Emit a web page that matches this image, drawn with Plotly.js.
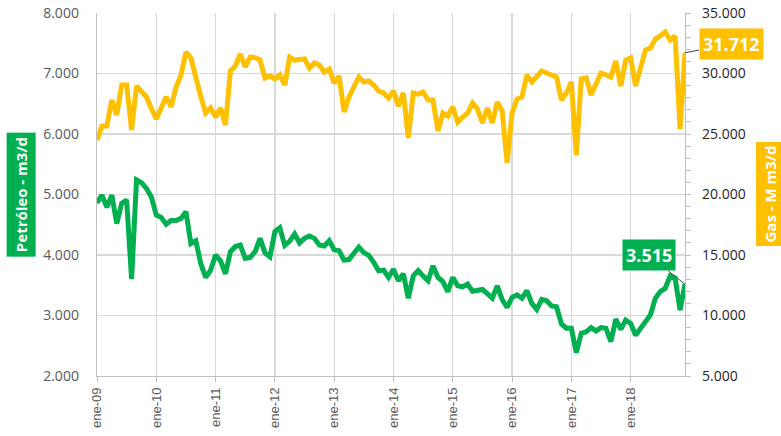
<!DOCTYPE html>
<html>
<head>
<meta charset="utf-8">
<script src="https://cdn.plot.ly/plotly-3.0.1.min.js"></script>
<style>html,body{margin:0;padding:0;background:#fff}#chart{width:781px;height:436px}</style>
</head>
<body>
<div id="chart"></div>
<script>
// Month labels (Spanish abbreviations) and years covered
const monthNames = ["ene","feb","mar","abr","may","jun","jul","ago","sep","oct","nov","dic"];
const years = ["09","10","11","12","13","14","15","16","17","18"];
const months = [];
years.forEach(y => monthNames.forEach(m => months.push(m + "-" + y)));
const tickLabels = years.map(y => "ene-" + y);

// Petróleo (m3/d), monthly ene-09 .. dic-18
const oil = [
  4860,4990,4790,4990,4520,4855,4910,3600,5240,5195,5100,4960,
  4660,4620,4510,4570,4570,4605,4715,4190,4235,3860,3630,3750,
  4000,3905,3690,4055,4140,4165,3945,3960,4055,4275,4035,3970,
  4385,4450,4160,4230,4347,4200,4275,4315,4275,4165,4150,4235,
  4085,4070,3915,3925,4030,4130,4040,3995,3880,3740,3750,3630,
  3765,3575,3690,3285,3655,3740,3655,3575,3820,3630,3560,3395,
  3630,3490,3475,3520,3400,3410,3430,3360,3285,3490,3265,3135,
  3300,3340,3285,3410,3200,3100,3265,3245,3157,3145,2860,2790,
  2790,2385,2705,2730,2800,2745,2800,2790,2570,2940,2770,2925,
  2870,2675,2790,2880,3010,3285,3395,3450,3655,3615,3090,3515
];

// Gas (M m3/d), monthly ene-09 .. dic-18
const gas = [
  24500,25660,25660,27810,26570,29050,29050,25330,28970,28500,28060,27100,
  26240,27150,28060,27230,28880,29880,31780,31280,29460,28100,26730,27150,
  26400,27150,25740,30210,30620,31610,30540,31360,31300,31110,29630,29800,
  29550,29880,29050,31360,31110,31150,31200,30450,30870,30700,30120,30370,
  29210,29800,26820,28060,28900,29710,29300,29380,29050,28550,28390,27970,
  28550,27310,28390,24670,28390,28300,28470,27810,27810,25250,26730,26490,
  27230,25990,26400,26730,27560,27070,25910,27150,25910,27640,26900,22600,
  26730,27890,28060,29880,29300,29700,30210,30040,29900,29710,27810,28390,
  29300,23260,29550,29630,28220,29100,30040,29900,29710,31030,28970,31110,
  31280,28970,30500,31940,32110,32850,33100,33430,32770,33100,25410,31712
];

const GREEN = "#00B050", GOLD = "#FFC000";
const last = months.length - 1;
const fmt = v => v.toLocaleString("de-DE");

const traces = [
  {x: months, y: oil, type: "scatter", mode: "lines", name: "Petróleo",
   line: {color: GREEN, width: 5}, yaxis: "y", hoverinfo: "x+y"},
  {x: months, y: gas, type: "scatter", mode: "lines", name: "Gas",
   line: {color: GOLD, width: 5}, yaxis: "y2", hoverinfo: "x+y"}
];

const layout = {
  width: 781, height: 436,
  margin: {l: 97, r: 96, t: 13, b: 60},
  paper_bgcolor: "#fff", plot_bgcolor: "#fff",
  separators: ",.",
  showlegend: false,
  font: {family: "Open Sans, Noto Sans, sans-serif"},
  xaxis: {
    type: "category", range: [0, last],
    tickmode: "array", tickvals: tickLabels, ticktext: tickLabels,
    tickangle: -90, ticks: "outside", ticklen: 5, tickcolor: "#BFBFBF",
    tickfont: {family: "Liberation Sans, Arial, sans-serif", size: 13, color: "#595959"},
    showgrid: true, gridcolor: "#D9D9D9", gridwidth: 1.3,
    showline: true, linecolor: "#BFBFBF", linewidth: 1.3, zeroline: false
  },
  yaxis: {
    range: [2000, 8000], dtick: 1000, tick0: 2000, tickformat: ",.0f",
    tickfont: {size: 14, color: "#595959"},
    showgrid: true, gridcolor: "#D9D9D9", gridwidth: 1.3,
    showline: true, linecolor: "#BFBFBF", linewidth: 1.3,
    zeroline: false, ticks: "", ticklabelstandoff: 14
  },
  yaxis2: {
    overlaying: "y", side: "right", anchor: "x",
    range: [5000, 35000], dtick: 5000, tick0: 5000, tickformat: ",.0f",
    tickfont: {size: 14, color: "#262626"},
    showgrid: false, zeroline: false,
    showline: true, linecolor: "#BFBFBF", linewidth: 1.3,
    ticks: "outside", ticklen: 5, tickcolor: "#BFBFBF", ticklabelstandoff: 8,
    minor: {dtick: 1000, ticks: "outside", ticklen: 5, tickcolor: "#BFBFBF"}
  },
  annotations: [
    {xref: "paper", yref: "paper", x: -0.129, y: 0.4986, xanchor: "center", yanchor: "middle",
     text: "<b>Petróleo - m3/d</b>", textangle: -90, showarrow: false,
     font: {size: 15, color: "#fff"}, bgcolor: GREEN, borderpad: 4},
    {xref: "paper", yref: "paper", x: 1.1429, y: 0.5, xanchor: "center", yanchor: "middle",
     text: "<b>Gas - M m3/d</b>", textangle: -90, showarrow: false,
     font: {size: 15, color: "#fff"}, bgcolor: GOLD, borderpad: 3},
    {xref: "x", yref: "y2", x: months[last], y: gas[last],
     text: "<b>" + fmt(gas[last]) + "</b>", showarrow: true, arrowhead: 0,
     arrowwidth: 1, arrowcolor: "#404040", ax: 46, ay: -9,
     font: {size: 18, color: "#fff"}, bgcolor: GOLD, borderpad: 3},
    {xref: "x", yref: "y", x: months[last], y: oil[last],
     text: "<b>" + fmt(oil[last]) + "</b>", showarrow: true, arrowhead: 0,
     arrowwidth: 1, arrowcolor: "#404040", ax: -36, ay: -29,
     font: {size: 18, color: "#fff"}, bgcolor: GREEN, borderpad: 3}
  ]
};

Plotly.newPlot("chart", traces, layout, {displayModeBar: false, staticPlot: true});
</script>
</body>
</html>
